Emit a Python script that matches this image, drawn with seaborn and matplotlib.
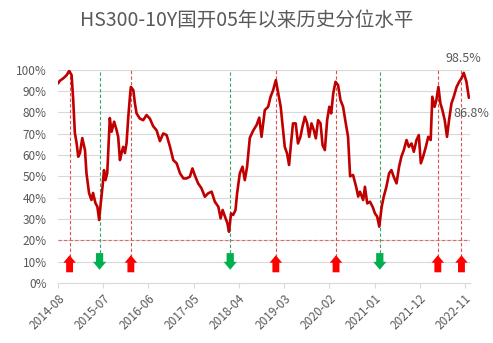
import matplotlib
matplotlib.use("Agg")
import matplotlib.pyplot as plt
import seaborn as sns
import pandas as pd

# Percentile of HS300 earnings yield minus 10Y CDB yield, history since 2005 (%)
dates = [
    "2014-08-01", "2014-08-15", "2014-09-09", "2014-10-04", "2014-10-23", "2014-11-10",
    "2014-11-22", "2014-12-04", "2014-12-17", "2014-12-29", "2015-01-11", "2015-01-28",
    "2015-02-17", "2015-02-28", "2015-03-19", "2015-04-06", "2015-04-18", "2015-05-05",
    "2015-05-20", "2015-06-02", "2015-06-14", "2015-06-27", "2015-07-08", "2015-07-19",
    "2015-08-01", "2015-08-11", "2015-08-20", "2015-09-02", "2015-09-21", "2015-10-09",
    "2015-10-21", "2015-11-03", "2015-11-15", "2015-11-27", "2015-12-10", "2015-12-22",
    "2016-01-04", "2016-01-16", "2016-01-23", "2016-02-10", "2016-02-22", "2016-03-05",
    "2016-03-29", "2016-04-23", "2016-05-18", "2016-06-12", "2016-07-06", "2016-08-01",
    "2016-08-25", "2016-09-19", "2016-10-14", "2016-11-08", "2016-12-02", "2016-12-27",
    "2017-01-21", "2017-02-15", "2017-03-10", "2017-04-04", "2017-04-23", "2017-05-10",
    "2017-06-04", "2017-06-29", "2017-07-24", "2017-08-17", "2017-09-12", "2017-10-06",
    "2017-11-01", "2017-11-18", "2017-12-03", "2017-12-20", "2018-01-07", "2018-01-19",
    "2018-02-03", "2018-02-19", "2018-03-08", "2018-03-20", "2018-04-09", "2018-04-29",
    "2018-05-16", "2018-06-02", "2018-06-22", "2018-07-16", "2018-08-11", "2018-08-31",
    "2018-09-17", "2018-10-11", "2018-11-05", "2018-11-23", "2018-12-12", "2019-01-01",
    "2019-01-19", "2019-02-06", "2019-02-21", "2019-03-08", "2019-03-25", "2019-04-09",
    "2019-04-21", "2019-05-08", "2019-05-28", "2019-06-14", "2019-07-02", "2019-07-17",
    "2019-08-04", "2019-08-21", "2019-09-05", "2019-09-22", "2019-10-09", "2019-10-24",
    "2019-11-10", "2019-11-28", "2019-12-13", "2019-12-30", "2020-01-16", "2020-02-01",
    "2020-02-15", "2020-03-01", "2020-03-18", "2020-04-06", "2020-04-24", "2020-05-13",
    "2020-06-02", "2020-06-19", "2020-07-04", "2020-07-26", "2020-08-18", "2020-09-02",
    "2020-09-15", "2020-10-09", "2020-10-22", "2020-11-08", "2020-11-28", "2020-12-18",
    "2021-01-04", "2021-01-21", "2021-02-05", "2021-02-23", "2021-03-10", "2021-03-30",
    "2021-04-19", "2021-05-06", "2021-05-23", "2021-06-13", "2021-07-02", "2021-07-19",
    "2021-08-06", "2021-08-26", "2021-09-12", "2021-10-02", "2021-10-19", "2021-11-08",
    "2021-11-25", "2021-12-10", "2021-12-27", "2022-01-16", "2022-02-03", "2022-02-21",
    "2022-03-05", "2022-03-22", "2022-04-04", "2022-04-19", "2022-05-04", "2022-05-19",
    "2022-06-05", "2022-06-22", "2022-07-07", "2022-07-25", "2022-08-11", "2022-09-01",
    "2022-09-20", "2022-10-07", "2022-10-24", "2022-11-13", "2022-12-01",
]
percentile = [
    93.5, 94.8, 95.9, 97.4, 99.4, 97.4,
    85.7, 70.3, 65.6, 59.2, 60.9, 67.9,
    62.3, 51.5, 42.2, 38.9, 42.2, 37.5,
    35.7, 29.5, 37.5, 45.1, 52.9, 48.2,
    51.5, 65.6, 77.3, 70.9, 75.6, 71.7,
    68.5, 57.6, 60.9, 63.8, 60.9, 65.6,
    77.9, 87.3, 91.9, 90.4, 84.2, 79.5,
    77.1, 76.3, 78.7, 77.0, 73.5, 71.5,
    66.5, 70.1, 69.3, 63.8, 57.6, 56.1,
    51.4, 49.0, 49.0, 49.8, 53.7, 50.6,
    46.7, 44.4, 40.4, 42.0, 42.8, 38.1,
    35.7, 30.3, 34.2, 31.1, 28.0, 24.0,
    32.6, 31.9, 34.2, 42.0, 51.4, 54.5,
    48.2, 54.5, 68.0, 71.3, 74.0, 77.5,
    68.5, 81.0, 82.6, 87.3, 90.4, 95.1,
    88.8, 82.6, 73.2, 63.8, 60.7, 55.3,
    63.8, 74.8, 74.8, 65.4, 68.5, 73.2,
    77.9, 74.8, 68.5, 74.8, 71.7, 67.8,
    76.3, 74.8, 64.6, 62.3, 76.3, 82.6,
    79.5, 88.8, 94.3, 92.7, 85.7, 82.6,
    74.8, 68.5, 50.0, 50.6, 45.0, 40.5,
    42.8, 38.9, 45.1, 37.3, 38.1, 35.7,
    32.6, 31.1, 26.4, 35.7, 40.4, 45.1,
    51.4, 52.9, 49.8, 46.7, 54.5, 59.2,
    62.3, 67.0, 63.8, 65.4, 61.5, 67.0,
    69.3, 56.1, 59.2, 63.8, 68.5, 67.0,
    87.3, 82.6, 85.7, 91.9, 84.2, 81.0,
    76.3, 68.5, 76.3, 84.2, 87.3, 91.9,
    94.3, 95.9, 98.5, 94.3, 86.8,
]

# Signal dates: high-percentile (red, up arrows) and low-percentile (green, down arrows)
high_signal_dates = ["2014-10-26", "2016-01-23", "2019-01-01", "2020-03-22", "2022-04-15", "2022-10-07"]
low_signal_dates = ["2015-06-05", "2018-01-28", "2021-02-09"]
threshold = 20

# the recent high that gets a value label
recent_peak_date = "2022-10-24"

tick_labels = ["2014-08", "2015-07", "2016-06", "2017-05", "2018-04",
               "2019-03", "2020-02", "2021-01", "2021-12", "2022-11"]
y_ticks = [0, 10, 20, 30, 40, 50, 60, 70, 80, 90, 100]

title = "HS300-10Y国开05年以来历史分位水平"

sns.set_theme(style="white")
plt.rcParams["font.family"] = ["Noto Sans CJK SC", "DejaVu Sans"]

df = pd.DataFrame({"date": pd.to_datetime(dates), "pct": percentile})

fig = plt.figure(figsize=(4.93, 3.43), dpi=100)
ax = fig.add_axes([0.1176, 0.175, 0.8354, 0.622])

text_gray = "#595959"
grid_gray = "#d9d9d9"
line_red = "#c00000"
arrow_red = "#ff0000"
arrow_green = "#00b050"

# horizontal gridlines
for yv in y_ticks[1:]:
    ax.axhline(yv, color=grid_gray, lw=0.8, zorder=0)

sns.lineplot(data=df, x="date", y="pct", ax=ax, color=line_red, lw=1.9, zorder=3)

x_start = pd.Timestamp("2014-08-01")
x_end = pd.Timestamp("2022-12-08")
ax.set_xlim(x_start, x_end)
ax.set_ylim(0, 100)

# threshold line
ax.axhline(threshold, color="#e06a6a", lw=0.8, ls=(0, (3, 2)), zorder=2)

# signal markers
arrow_style = "simple,head_length=0.6,head_width=1.0,tail_width=0.55"
for d in high_signal_dates:
    t = pd.Timestamp(d)
    ax.axvline(t, ymin=0.12, ymax=1.0, color="#dc5050", lw=0.8, ls=(0, (3, 2)), zorder=2)
    ax.annotate("", xy=(t, 13.0), xytext=(t, 5.0),
                arrowprops=dict(arrowstyle=arrow_style, color=arrow_red, lw=0,
                                shrinkA=0, shrinkB=0, mutation_scale=9),
                zorder=4)
for d in low_signal_dates:
    t = pd.Timestamp(d)
    ax.axvline(t, ymin=0.14, ymax=1.0, color="#30a868", lw=0.8, ls=(0, (3, 2)), zorder=2)
    ax.annotate("", xy=(t, 6.2), xytext=(t, 14.0),
                arrowprops=dict(arrowstyle=arrow_style, color=arrow_green, lw=0,
                                shrinkA=0, shrinkB=0, mutation_scale=9.5),
                zorder=4)

# value labels at the recent high and at the latest point
peak_idx = dates.index(recent_peak_date)
ax.annotate(f"{percentile[peak_idx]:.1f}%", xy=(df["date"][peak_idx], percentile[peak_idx]),
            xytext=(0, 10), textcoords="offset points", ha="center", va="center",
            fontsize=9, color=text_gray, annotation_clip=False)
ax.annotate(f"{percentile[-1]:.1f}%", xy=(df["date"].iloc[-1], percentile[-1]),
            xytext=(2, -11), textcoords="offset points", ha="center", va="center",
            fontsize=9, color=text_gray, annotation_clip=False, zorder=5)

# axes styling
ax.set_yticks(y_ticks)
ax.set_yticklabels([f"{v}%" for v in y_ticks], fontsize=8.5, color=text_gray)
ax.set_xticks(pd.to_datetime(tick_labels))
ax.set_xticklabels(tick_labels, rotation=45, ha="right", rotation_mode="anchor",
                   fontsize=8.5, color=text_gray)
ax.tick_params(axis="y", length=0, pad=8)
ax.tick_params(axis="x", length=3.5, width=0.8, color=grid_gray, pad=3, direction="out",
               bottom=True)
for side in ["top", "right", "left"]:
    ax.spines[side].set_visible(False)
ax.spines["bottom"].set_color(grid_gray)
ax.spines["bottom"].set_linewidth(0.8)
ax.set_xlabel("")
ax.set_ylabel("")
ax.grid(False)

fig.text(0.5, 0.94, title, ha="center", va="center", fontsize=14, color=text_gray)

fig.savefig("out.png", dpi=100, facecolor="white")
